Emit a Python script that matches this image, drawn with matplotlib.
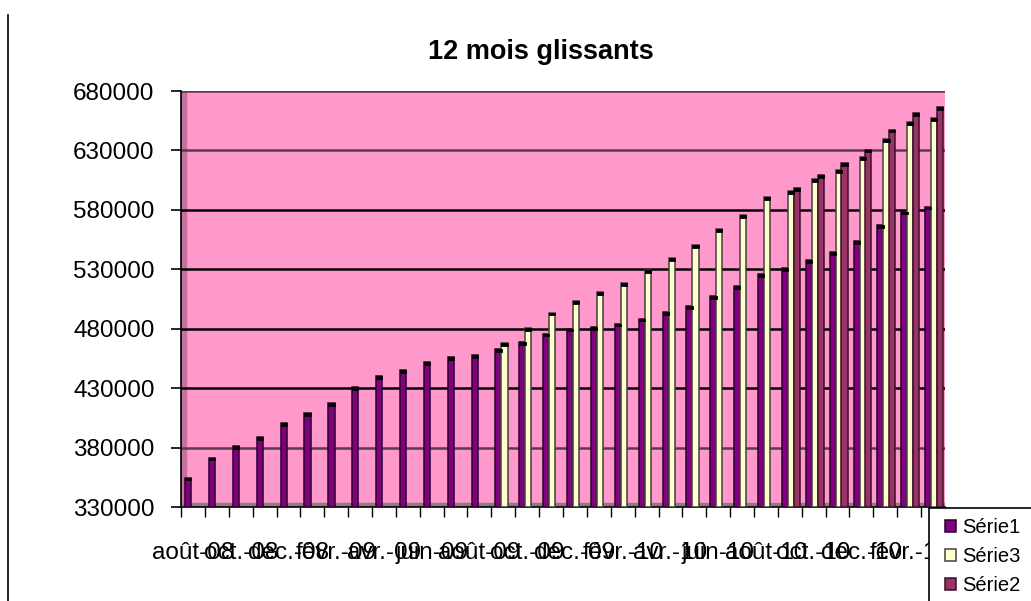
# Rolling 12 month totals, bar chart in the old Excel 3D style.

import numpy as np
import matplotlib
matplotlib.use('Agg')
import matplotlib.pyplot as plt
from matplotlib.lines import Line2D
from matplotlib.patches import Rectangle

plt.rcParams['font.family'] = ['Liberation Sans', 'DejaVu Sans']

# data
months = ['août-08', 'sept.-08', 'oct.-08', 'nov.-08', 'déc.-08', 'janv.-09',
          'févr.-09', 'mars-09', 'avr.-09', 'mai-09', 'juin-09', 'juil.-09',
          'août-09', 'sept.-09', 'oct.-09', 'nov.-09', 'déc.-09', 'janv.-10',
          'févr.-10', 'mars-10', 'avr.-10', 'mai-10', 'juin-10', 'juil.-10',
          'août-10', 'sept.-10', 'oct.-10', 'nov.-10', 'déc.-10', 'janv.-11',
          'févr.-11', 'mars-11']
serie1 = [354700, 371600, 381500, 389100, 400700, 408800, 417600, 430800,
          439800, 445500, 451900, 456100, 457500, 462900, 468500, 475900,
          480100, 481400, 484300, 488500, 494100, 499200, 507400, 516100,
          526000, 530800, 537800, 544300, 553600, 567300, 578600, 582800]
serie3_start = 13   # first month with a Série3 value
serie3 = [467900, 480600, 493600, 503100, 510500, 518100, 529300, 539700,
          550400, 563700, 575800, 590400, 596000, 605900, 613800, 624200,
          639700, 654100, 657500]
serie2_start = 25   # first month with a Série2 value
serie2 = [598000, 609600, 619500, 630700, 647600, 661700, 666400]
yticks = [330000, 380000, 430000, 480000, 530000, 580000, 630000, 680000]

# style
pink      = '#FF99CC'
wall      = '#C8709F'
floor     = '#8C7C84'
colors    = {'Série1': '#800080', 'Série3': '#FFFFCC', 'Série2': '#993366'}
edges     = {'Série1': '#2A002A', 'Série3': '#404040', 'Série2': '#3A1026'}
bar_w     = 0.26
offsets   = {'Série1': -0.2, 'Série3': 0.05, 'Série2': 0.29}
cap       = 2400  # dark top face of each column
font_size = 17.5


def draw_series(ax, name, values, start):
    x = np.arange(start, start + len(values)) + offsets[name]
    vals = np.array(values, dtype=float)
    bars = ax.bar(x, vals - yticks[0], width=bar_w, bottom=yticks[0],
                  color=colors[name], edgecolor=edges[name], linewidth=1.1,
                  zorder=3, label=name)
    ax.bar(x, cap, width=bar_w, bottom=vals - cap, color='black',
           edgecolor='black', linewidth=0.6, zorder=4)
    return bars


def main():
    fig = plt.figure(figsize=(10.31, 6.01), dpi=100)
    ax = fig.add_axes([181/1031, 1 - 507/601, (945 - 181)/1031, 416/601])

    ax.set_facecolor(pink)
    ax.set_xlim(-0.5, len(months) - 0.5)
    ax.set_ylim(yticks[0], yticks[-1])

    # 3D-ish back wall pieces
    ax.axvspan(-0.5, -0.3, color=wall, zorder=1)
    ax.axhspan(yticks[0], yticks[0] + 3400, color=floor, zorder=1)

    # gridlines
    for v in yticks[1:]:
        c = '#5E3A4E' if v in (630000, 680000, 380000) else 'black'
        ax.axhline(v, color=c, linewidth=1.8, zorder=2)

    h1 = draw_series(ax, 'Série1', serie1, 0)
    h3 = draw_series(ax, 'Série3', serie3, serie3_start)
    h2 = draw_series(ax, 'Série2', serie2, serie2_start)

    # axes
    for s in ['top', 'right']:
        ax.spines[s].set_visible(False)
    ax.spines['left'].set_linewidth(1.2)
    ax.spines['bottom'].set_linewidth(1.2)
    ax.set_yticks(yticks)
    ax.set_yticklabels([str(v) for v in yticks])
    ax.tick_params(axis='y', length=7, width=1.2, pad=12,
                   labelsize=font_size)
    ax.set_xticks(np.arange(-0.5, len(months)))
    ax.set_xticklabels([])
    ax.tick_params(axis='x', which='major', length=7, width=1.0)
    ax.set_xticks(np.arange(0, len(months), 2), minor=True)
    ax.set_xticklabels(months[::2], minor=True)
    ax.tick_params(axis='x', which='minor', length=0, pad=25,
                   labelsize=font_size)

    fig.text(541/1031, 1 - 52/601, '12 mois glissants', ha='center',
             va='center', fontsize=19.5, fontweight='bold')

    # chart border on the left
    fig.add_artist(Line2D([8/1031, 8/1031], [0, 1 - 15/601],
                          color='black', linewidth=1.2))

    # legend box, cut by the figure edge
    lx, ly = 929/1031, 1 - 508/601
    fig.add_artist(Rectangle((lx, ly - 0.3), 0.2, 0.3,
                             transform=fig.transFigure, facecolor='white',
                             edgecolor='black', linewidth=1.2, zorder=5))
    leg = fig.legend([h1, h3, h2], ['Série1', 'Série3', 'Série2'],
                     loc='upper left', bbox_to_anchor=(lx + 0.002, ly + 0.007),
                     frameon=False, fontsize=14.5, handlelength=0.55,
                     handleheight=0.55, handletextpad=0.3, labelspacing=0.5,
                     borderpad=0.2)
    leg.set_zorder(6)

    fig.savefig('out.png', dpi=100)


if __name__ == "__main__":
    main()
